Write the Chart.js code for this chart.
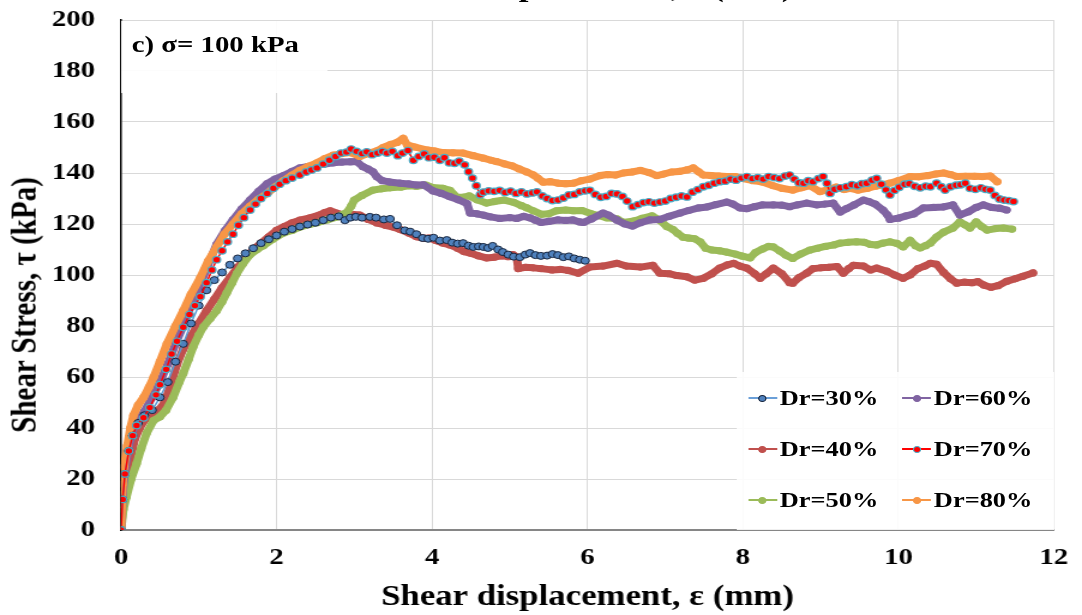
<!DOCTYPE html>
<html>
<head>
<meta charset="utf-8">
<script src="https://cdn.jsdelivr.net/npm/chart.js@4"></script>
<style>
  body { margin: 0; background: #fff; overflow: hidden; }
  #wrap { position: absolute; left: 0; top: 0; width: 902px; height: 615px; transform-origin: 0 0; transform: scaleX(1.19956); font-family: "Liberation Serif", "Times New Roman", serif; font-weight: bold; color: #000; }
  #box { position: absolute; left: 0; top: 0; width: 902px; height: 615px; }
  #topTitle { position: absolute; left: 489.6px; top: -28px; transform: translateX(-50%); font-size: 29px; line-height: 29px; white-space: nowrap; }
  #yTitle { position: absolute; left: 20px; top: 305px; transform: translate(-50%, -50%) rotate(-90deg); font-size: 29px; line-height: 34px; white-space: nowrap; }
  #note { position: absolute; left: 100.9px; top: 21px; width: 172.5px; height: 72px; background: rgba(255,255,255,0.9); }
  #note span { position: absolute; left: 8.9px; top: 23px; transform: translateY(-50%); font-size: 24px; white-space: nowrap; }
  #legend { position: absolute; left: 613.5px; top: 372px; width: 265px; height: 158px; background: rgba(255,255,255,0.88); }
  .item { position: absolute; height: 24px; }
  .mk { position: absolute; left: 0; top: 11px; width: 24px; height: 2px; }
  .dot { position: absolute; left: 8.5px; top: -2.5px; width: 7px; height: 7px; border-radius: 50%; box-sizing: border-box; }
  .lab { position: absolute; left: 26.5px; top: 0; font-size: 22px; line-height: 24px; white-space: nowrap; }
</style>
</head>
<body>
<div id="wrap">
  <div id="box"><canvas id="chart"></canvas></div>
  <div id="topTitle">Shear displacement, ε (mm)</div>
  <div id="yTitle">Shear Stress, τ (kPa)</div>
  <div id="note"><span>c) σ= 100 kPa</span></div>
  <div id="legend"></div>
</div>
<script>
const seriesNames = ['Dr=30%', 'Dr=40%', 'Dr=50%', 'Dr=60%', 'Dr=70%', 'Dr=80%'];
const xTicks = [0, 2, 4, 6, 8, 10, 12];
const yTicks = [0, 20, 40, 60, 80, 100, 120, 140, 160, 180, 200];

// [shear displacement (mm), shear stress (kPa)]
const dr30 = [[0,0],[0.02,12],[0.05,22],[0.1,31],[0.15,37],[0.22,42],[0.3,45],[0.4,47],[0.5,52],[0.6,58],[0.7,66],[0.8,73],[0.9,81],[1.0,88],[1.1,94],[1.2,98],[1.3,101],[1.4,104],[1.5,106.5],[1.6,108.5],[1.7,110.5],[1.8,112.5],[1.9,114],[2.0,115.5],[2.1,117],[2.2,118],[2.3,119],[2.4,119.8],[2.5,120.5],[2.6,121.5],[2.7,122.5],[2.8,123],[2.88,121.5],[2.95,122.5],[3.02,122.8],[3.1,122.5],[3.2,122.8],[3.28,122.5],[3.38,121.8],[3.46,122],[3.55,119.5],[3.65,117.5],[3.72,117],[3.8,116],[3.88,114.5],[3.95,114.2],[4.02,114.6],[4.1,113.5],[4.19,113.7],[4.26,112.7],[4.33,112.3],[4.4,112.5],[4.47,111.5],[4.53,111],[4.6,111.2],[4.66,111],[4.72,110.6],[4.78,111.4],[4.85,110],[4.91,109],[4.98,108],[5.05,107.2],[5.13,107],[5.2,108],[5.26,108.6],[5.33,107.8],[5.4,107.5],[5.48,107.6],[5.55,108.2],[5.62,107.8],[5.69,107],[5.76,107.3],[5.83,106.5],[5.9,106],[5.97,105.6]];

const dr40 = [[0,0],[0.03,12],[0.07,20],[0.12,28],[0.18,36],[0.24,40],[0.3,43],[0.41,45.8],[0.5,47.5],[0.56,50],[0.64,57],[0.72,65],[0.8,71],[0.9,76],[1.0,81],[1.1,86],[1.2,90.5],[1.3,95],[1.4,99],[1.5,103],[1.6,106.5],[1.7,110],[1.8,112.5],[1.9,115],[2.0,117.5],[2.1,119],[2.2,120.5],[2.3,121.5],[2.43,122.4],[2.55,123.5],[2.62,124.5],[2.69,125.2],[2.78,124.2],[2.86,123.5],[2.96,123.8],[3.07,123.5],[3.18,121.8],[3.29,120.4],[3.4,119.5],[3.5,118.8],[3.59,117.8],[3.7,116.5],[3.8,115],[3.9,114.4],[3.97,114.5],[4.05,113.5],[4.14,112.5],[4.23,111.8],[4.33,110.5],[4.41,109.2],[4.5,108.5],[4.6,107.5],[4.7,106.7],[4.8,107],[4.9,107.5],[4.98,107.2],[5.04,108],[5.09,107],[5.11,102.5],[5.2,103],[5.3,102.8],[5.4,102.5],[5.54,102],[5.65,102.2],[5.75,101.8],[5.88,100.7],[6.03,103.1],[6.2,103.5],[6.38,104.6],[6.5,103.5],[6.68,103.1],[6.84,103.8],[6.93,100.7],[7.05,100.5],[7.15,99.8],[7.28,99.3],[7.38,98],[7.49,98.7],[7.6,100.5],[7.7,102.7],[7.8,104],[7.88,104.6],[7.96,103.5],[8.05,102.7],[8.15,100.5],[8.22,98.7],[8.3,100.5],[8.39,102.7],[8.5,100.5],[8.6,97],[8.64,96.8],[8.72,99],[8.82,100.7],[8.9,102.5],[9.0,102.8],[9.1,103],[9.21,103.3],[9.29,100.7],[9.36,102.5],[9.42,103.8],[9.55,103.5],[9.64,102],[9.72,102.7],[9.85,101.5],[9.95,100],[10.06,98.7],[10.15,100],[10.25,102.5],[10.34,103.5],[10.41,104.6],[10.49,104.2],[10.58,101],[10.67,98.5],[10.75,96.8],[10.85,97.2],[10.95,97],[11.02,97.4],[11.1,96],[11.19,95.2],[11.28,95.8],[11.39,97.5],[11.5,98.5],[11.6,99.5],[11.73,100.8]];

const dr50 = [[0,0],[0.03,8],[0.07,13],[0.13,20],[0.2,26],[0.26,32],[0.33,38],[0.42,43],[0.5,44.4],[0.58,47],[0.67,52],[0.75,58],[0.8,61.4],[0.87,67],[0.93,72],[1.0,76.5],[1.06,79.7],[1.15,83],[1.23,86],[1.3,89.5],[1.36,93],[1.43,97],[1.49,100.6],[1.57,104.5],[1.66,108],[1.75,110],[1.83,111.5],[1.95,114],[2.09,116.5],[2.2,117.5],[2.3,118.8],[2.42,119.8],[2.52,120.5],[2.65,121.6],[2.78,122.8],[2.91,124.7],[2.96,127],[3.0,129.4],[3.1,131.2],[3.24,133.3],[3.35,133.8],[3.46,134.2],[3.6,134.5],[3.7,135],[3.8,134.8],[3.92,135.3],[4.01,134.3],[4.14,134],[4.23,133.2],[4.32,130.5],[4.4,130.5],[4.48,131],[4.58,129.5],[4.7,128.2],[4.8,128.8],[4.93,129.4],[5.05,128.5],[5.15,127.2],[5.22,126.3],[5.3,125.2],[5.41,123.8],[5.5,124],[5.6,125.2],[5.72,125.5],[5.82,125.2],[5.93,125.3],[6.05,124],[6.15,123.3],[6.25,122.4],[6.38,122],[6.46,120.6],[6.6,121.2],[6.7,122.2],[6.83,123.2],[6.93,121.5],[7.02,119],[7.1,117.8],[7.16,116.3],[7.23,114.8],[7.3,114.5],[7.38,114.2],[7.45,113],[7.52,110.5],[7.6,109.8],[7.7,109.5],[7.79,109],[7.9,108.2],[7.99,107.4],[8.09,106.7],[8.16,108.8],[8.25,110.2],[8.33,111.2],[8.39,111],[8.47,109.5],[8.55,107.8],[8.64,106.5],[8.74,108.2],[8.86,109.8],[8.96,110.5],[9.06,111.2],[9.17,111.8],[9.25,112.5],[9.35,112.8],[9.46,113],[9.56,112.8],[9.64,112],[9.72,111.8],[9.8,112.5],[9.89,113],[9.98,112.4],[10.06,111],[10.15,113.6],[10.22,111.5],[10.28,110.6],[10.35,111.5],[10.41,112.5],[10.49,114.9],[10.58,116.8],[10.7,118.4],[10.79,120.8],[10.86,119.6],[10.92,118.4],[11.0,120.8],[11.07,119],[11.14,117.6],[11.25,118.2],[11.35,118.4],[11.46,118]];

const dr60 = [[0,0],[0.02,14],[0.05,24],[0.1,33],[0.16,40],[0.22,43],[0.3,46.5],[0.4,52],[0.5,58],[0.6,65],[0.7,73],[0.8,80],[0.9,88],[1.0,95],[1.12,104],[1.23,112],[1.34,117.5],[1.44,121.6],[1.55,125.8],[1.66,129.4],[1.77,132.8],[1.88,135.8],[1.98,137.6],[2.09,139],[2.2,140.6],[2.3,142],[2.41,142.6],[2.52,143],[2.62,143.5],[2.73,144],[2.84,144.3],[2.95,144.4],[3.03,144.5],[3.11,142.5],[3.18,141.5],[3.24,140.5],[3.29,138.5],[3.36,137],[3.45,136.5],[3.59,136],[3.7,135.7],[3.8,135.3],[3.89,135.4],[4.01,133],[4.12,132],[4.23,130.7],[4.34,129.5],[4.45,128],[4.49,124.3],[4.58,124],[4.66,123.5],[4.75,122.8],[4.87,122.2],[5.0,122.5],[5.09,122.2],[5.18,123],[5.26,122.4],[5.33,121.5],[5.4,120.6],[5.5,121],[5.62,121.6],[5.72,121.4],[5.81,121.6],[5.9,120.8],[5.95,120.6],[6.05,122],[6.2,124.3],[6.27,123.5],[6.38,121.5],[6.48,120],[6.58,119.2],[6.68,120.5],[6.8,121.6],[6.93,121.8],[7.05,123],[7.19,124.3],[7.3,125.3],[7.43,126.3],[7.54,126.7],[7.65,127.6],[7.79,128.6],[7.87,127.8],[7.96,126.3],[8.05,126],[8.15,126.8],[8.25,127.5],[8.39,127.5],[8.5,127.4],[8.6,126.8],[8.7,127.5],[8.82,128.2],[8.95,127.5],[9.05,127.8],[9.16,128.2],[9.25,124.7],[9.33,126],[9.43,127.5],[9.55,129.4],[9.62,128.8],[9.7,127.8],[9.8,125.5],[9.86,123.5],[9.89,121.8],[10.0,122.3],[10.1,123.2],[10.2,124],[10.32,126.3],[10.45,126.5],[10.58,126.7],[10.7,127.5],[10.79,123.5],[10.9,124.8],[11.0,126.5],[11.09,127.5],[11.2,126.5],[11.3,126.2],[11.39,125.5]];

const dr70 = [[0,0],[0.02,12],[0.05,22],[0.1,31],[0.15,37],[0.2,41],[0.29,44],[0.37,48],[0.45,53],[0.5,57],[0.58,63],[0.65,69],[0.72,74],[0.8,79.5],[0.88,84.5],[0.95,88],[1.02,91.5],[1.1,97],[1.17,102],[1.23,106],[1.3,109.5],[1.37,113],[1.44,116],[1.51,119.5],[1.58,122.5],[1.66,125.5],[1.73,127.8],[1.8,130],[1.88,132],[1.96,134],[2.04,135.6],[2.12,137],[2.2,138],[2.3,139.2],[2.38,140.4],[2.45,141.2],[2.52,142],[2.6,143.5],[2.68,145],[2.76,146.5],[2.83,147.8],[2.9,148.2],[2.96,149.4],[3.03,148.5],[3.1,147.6],[3.16,148.3],[3.23,147.2],[3.3,147.8],[3.36,148.5],[3.42,147.8],[3.49,148.5],[3.56,146.8],[3.62,147.8],[3.69,148.8],[3.76,145],[3.83,146.5],[3.9,147.5],[3.96,146],[4.03,146.2],[4.1,145],[4.16,146],[4.22,144],[4.29,143.8],[4.35,144.6],[4.42,143.2],[4.47,140.5],[4.52,138],[4.57,135],[4.62,131.5],[4.66,132.5],[4.73,133],[4.8,132.8],[4.87,133.2],[4.94,132.4],[5.01,132.9],[5.08,132],[5.15,132.6],[5.22,131.8],[5.29,132.2],[5.35,132.6],[5.42,131],[5.48,130],[5.55,129.2],[5.62,129.4],[5.69,130.2],[5.76,131.4],[5.83,131.6],[5.9,132.6],[5.97,133],[6.03,133.2],[6.1,131.6],[6.17,130.5],[6.24,130.8],[6.31,132],[6.38,131.8],[6.45,130.8],[6.51,129],[6.58,126.8],[6.65,127.6],[6.72,128.4],[6.79,128.7],[6.86,128.2],[6.93,128.6],[7.0,129],[7.07,130],[7.14,130.5],[7.21,131],[7.28,130.6],[7.35,132.5],[7.42,133.5],[7.49,134.6],[7.56,135.2],[7.63,136],[7.7,136.6],[7.77,136.8],[7.84,137.6],[7.91,137.2],[7.98,138],[8.05,138.6],[8.12,137.8],[8.19,138.2],[8.26,137.6],[8.33,138.6],[8.4,138.2],[8.47,137.8],[8.54,138.8],[8.6,139.2],[8.66,137.6],[8.72,136.2],[8.78,136],[8.84,137],[8.9,136.6],[8.97,137.8],[9.03,138.6],[9.08,136],[9.12,132],[9.18,133.6],[9.25,134.2],[9.33,134.6],[9.4,135.4],[9.47,135],[9.53,135.8],[9.59,136],[9.66,137.2],[9.72,137.9],[9.78,135.6],[9.84,133.4],[9.89,131.4],[9.95,133.2],[10.01,134.4],[10.08,135.6],[10.14,135.8],[10.21,134.8],[10.28,134.2],[10.35,134.8],[10.41,134.6],[10.49,136],[10.55,134.6],[10.6,133.3],[10.67,134.6],[10.74,135.2],[10.8,135.4],[10.86,136],[10.92,134],[10.99,133.6],[11.06,134.2],[11.12,133.6],[11.18,133.3],[11.24,131.2],[11.3,129.8],[11.36,129.4],[11.42,129.2],[11.48,128.8]];

const dr80 = [[0,0],[0.01,10],[0.02,18],[0.04,25],[0.08,33],[0.12,40],[0.16,45],[0.22,49],[0.29,52],[0.36,56],[0.42,60],[0.5,66],[0.59,73],[0.7,80],[0.8,86],[0.9,92.5],[1.02,99],[1.12,105.5],[1.23,111],[1.33,116],[1.44,120],[1.55,124],[1.66,127],[1.77,129.8],[1.88,132],[1.98,134.5],[2.09,137],[2.2,139.2],[2.3,141],[2.41,142.6],[2.52,144],[2.62,145.6],[2.73,147],[2.84,147.6],[2.95,148],[3.07,146.5],[3.2,147.8],[3.3,148.8],[3.37,150],[3.47,151.2],[3.55,152],[3.63,153.6],[3.68,151],[3.78,150.2],[3.94,149],[4.04,148.6],[4.14,148],[4.27,147.9],[4.4,147.8],[4.53,146.8],[4.66,145.8],[4.76,145],[4.83,144.5],[4.93,143.6],[5.03,142.8],[5.12,141.6],[5.22,140.4],[5.3,139.3],[5.36,138],[5.43,136.4],[5.52,136.6],[5.62,136],[5.72,135.8],[5.82,136],[5.92,137],[6.03,137.6],[6.16,139],[6.26,139.4],[6.36,139.2],[6.46,140],[6.57,140.4],[6.68,141],[6.79,140.2],[6.89,139],[6.98,139.6],[7.08,140.4],[7.18,140.6],[7.28,141.2],[7.36,142],[7.43,140.5],[7.49,139.2],[7.59,139],[7.69,138.8],[7.79,138.6],[7.9,138.6],[8.0,137.8],[8.13,137],[8.25,136.5],[8.39,135],[8.5,134],[8.64,133.3],[8.75,134.2],[8.86,135],[8.99,132.7],[9.1,133.5],[9.2,134.5],[9.3,133.5],[9.38,134],[9.48,133.3],[9.6,134],[9.7,134.8],[9.8,135.4],[9.89,136],[10.0,137],[10.15,138.6],[10.26,138.5],[10.38,139],[10.48,139.6],[10.58,140],[10.67,139.4],[10.75,138.6],[10.86,138.7],[10.98,138.7],[11.08,138.6],[11.18,138.8],[11.27,136.6]];

const toPts = arr => arr.map(p => ({ x: p[0], y: p[1] }));
const serif = '"Liberation Serif", "Times New Roman", serif';

function thick(label, data, color, order) {
  return {
    label, data: toPts(data), order, showLine: true,
    borderColor: color, borderWidth: 7, borderJoinStyle: 'round', borderCapStyle: 'round',
    pointRadius: 3.6, pointBackgroundColor: color, pointBorderWidth: 0,
    legendLine: color, legendDot: color, legendDotBorder: color
  };
}

const datasets = [
  { label: seriesNames[0], data: toPts(dr30), order: 1, showLine: true,
    borderColor: '#5b9bd5', borderWidth: 1.5,
    pointRadius: 3.5, pointBackgroundColor: '#4f81bd', pointBorderColor: '#17253d', pointBorderWidth: 1,
    legendLine: '#6a9fd8', legendDot: '#4f81bd', legendDotBorder: '#17253d' },
  thick(seriesNames[1], dr40, '#c0504d', 5),
  thick(seriesNames[2], dr50, '#9bbb59', 4),
  thick(seriesNames[3], dr60, '#8064a2', 3),
  { label: seriesNames[4], data: toPts(dr70), order: 0, showLine: true,
    borderColor: '#ff0000', borderWidth: 1.5,
    pointRadius: 3.3, pointBackgroundColor: '#ff0000', pointBorderColor: '#4bacc6', pointBorderWidth: 1.2,
    legendLine: '#ff0000', legendDot: '#ff0000', legendDotBorder: '#4bacc6' },
  thick(seriesNames[5], dr80, '#f79646', 2)
];

new Chart(document.getElementById('chart'), {
  type: 'scatter',
  data: { datasets },
  options: {
    responsive: true,
    maintainAspectRatio: false,
    animation: false,
    layout: { padding: { top: 20, right: 23.4, bottom: 0, left: 0 } },
    plugins: { legend: { display: false }, tooltip: { enabled: false } },
    elements: { line: { tension: 0 } },
    scales: {
      x: {
        type: 'linear', min: 0, max: 12,
        afterBuildTicks: s => { s.ticks = xTicks.map(v => ({ value: v })); },
        afterFit: s => { s.height = 85; s.paddingLeft = 0; s.paddingRight = 0; },
        ticks: { color: '#000', padding: 13.6, font: { family: serif, size: 24, weight: 'bold' } },
        grid: { color: '#d9d9d9', lineWidth: 1, drawTicks: false },
        border: { color: '#868686', width: 2 },
        title: { display: true, text: 'Shear displacement, ε (mm)', color: '#000', padding: 0,
          font: { family: serif, size: 29, weight: 'bold', lineHeight: 1.2 } }
      },
      y: {
        min: 0, max: 200,
        afterBuildTicks: s => { s.ticks = yTicks.map(v => ({ value: v })); },
        afterFit: s => { s.width = 100.9; s.paddingTop = 0; s.paddingBottom = 0; },
        ticks: { color: '#000', padding: 21.7, font: { family: serif, size: 24, weight: 'bold' } },
        grid: { color: '#d9d9d9', lineWidth: 1, drawTicks: false },
        border: { color: '#000', width: 1.5 }
      }
    }
  }
});

// legend: two columns of three
const legend = document.getElementById('legend');
const colX = [10, 138.5];
const rowY = [14, 65, 116];
datasets.forEach((ds, i) => {
  const item = document.createElement('div');
  item.className = 'item';
  item.style.left = colX[Math.floor(i / 3)] + 'px';
  item.style.top = rowY[i % 3] + 'px';
  item.innerHTML = '<div class="mk" style="background:' + ds.legendLine + '"><div class="dot" style="background:' +
    ds.legendDot + ';border:1px solid ' + ds.legendDotBorder + '"></div></div><div class="lab">' + ds.label + '</div>';
  legend.appendChild(item);
});
</script>
</body>
</html>
